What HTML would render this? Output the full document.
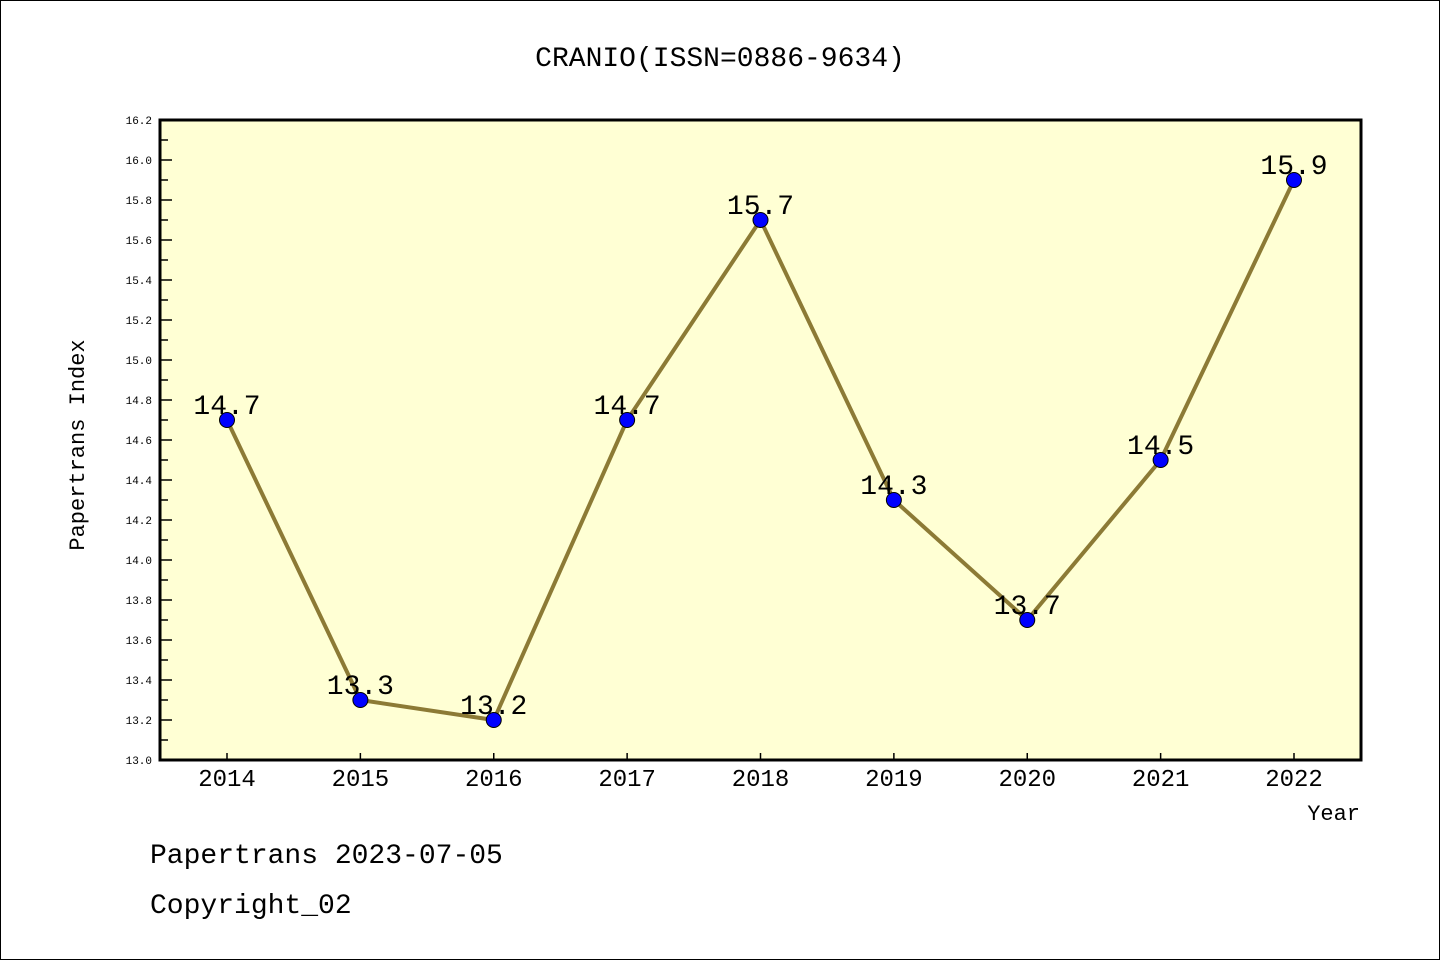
<!DOCTYPE html>
<html><head><meta charset="utf-8"><style>
body{margin:0;background:#fff}
svg{display:block}
text{font-family:"Liberation Mono","DejaVu Sans Mono",monospace;fill:#000}
</style></head><body>
<svg width="1440" height="960" viewBox="0 0 1440 960">
<rect x="0.5" y="0.5" width="1439" height="959" fill="#fff" stroke="#000"/>
<text x="720" y="66" font-size="28" text-anchor="middle">CRANIO(ISSN=0886-9634)</text>
<rect x="160" y="120" width="1201" height="640" fill="#ffffd4"/>
<g id="yticks"></g><g id="xticks"></g>
<g id="series"></g>
<rect x="160" y="120" width="1201" height="640" fill="none" stroke="#000" stroke-width="3"/>
<text transform="translate(84,445) rotate(-90)" font-size="22" text-anchor="middle">Papertrans Index</text>
<text x="1360" y="820" font-size="22" text-anchor="end">Year</text>
<text x="150" y="863" font-size="28">Papertrans 2023-07-05</text>
<text x="150" y="913" font-size="28">Copyright_02</text>
</svg>
<script>
const years=[2014,2015,2016,2017,2018,2019,2020,2021,2022];
const values=[14.7,13.3,13.2,14.7,15.7,14.3,13.7,14.5,15.9];
const labels=["14.7","13.3","13.2","14.7","15.7","14.3","13.7","14.5","15.9"];
const yMin=13.0,yMax=16.2;
const NS="http://www.w3.org/2000/svg";
const X=y=>227+(y-2014)*(1294-227)/8;
const Y=v=>760-(v-yMin)*(640/(yMax-yMin));
function mk(tag,attrs,parent){const e=document.createElementNS(NS,tag);for(const k in attrs)e.setAttribute(k,attrs[k]);parent.appendChild(e);return e;}
const yt=document.getElementById('yticks');
for(let i=0;i<=32;i++){const v=yMin+i*0.1;const y=Y(v);const major=i%2===0;
const t=mk('line',{x1:160,x2:160+(major?12:8),y1:y,y2:y,stroke:'#000','stroke-width':1.5},yt);


if(major){const l=mk('text',{x:152,y:y+4,'font-size':11,'text-anchor':'end'},yt);l.textContent=v.toFixed(1);

}}
const xt=document.getElementById('xticks');
years.forEach(yr=>{const x=X(yr);
const t=mk('line',{x1:x,x2:x,y1:760,y2:753,stroke:'#000','stroke-width':1.5},xt);


const l=mk('text',{x:x,y:786,'font-size':24,'text-anchor':'middle'},xt);l.textContent=yr;

});
const s=document.getElementById('series');
const pl=mk('polyline',{points:years.map((y,i)=>X(y)+','+Y(values[i])).join(' '),fill:'none',stroke:'#8c7a35','stroke-width':4},s);


years.forEach((yr,i)=>{
const c=mk('circle',{cx:X(yr),cy:Y(values[i]),r:7.5,fill:'#0000ff',stroke:'#000','stroke-width':1},s);


const l=mk('text',{x:X(yr),y:Y(values[i])-6,'font-size':28,'text-anchor':'middle'},s);l.textContent=labels[i];

});
</script>
</body></html>
